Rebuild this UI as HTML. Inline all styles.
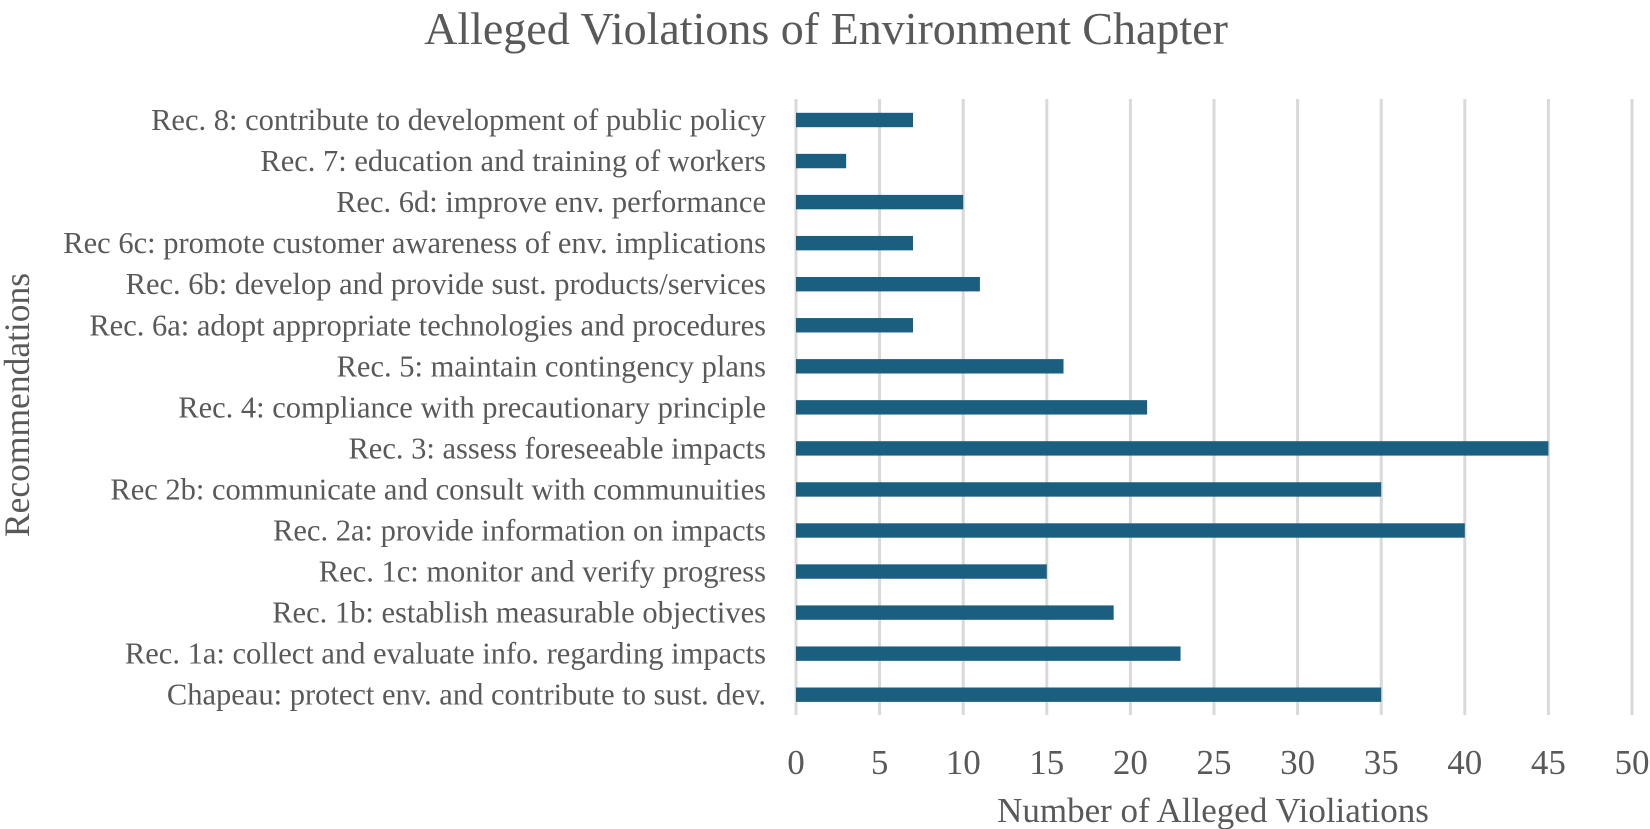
<!DOCTYPE html>
<html><head><meta charset="utf-8"><style>
body{margin:0;background:#fff;}
svg{display:block;font-family:"Liberation Serif",serif;}
</style></head><body>
<svg id="chart" width="1650" height="829">
<text x="826" y="44" text-anchor="middle" font-size="46" fill="#595959">Alleged Violations of Environment Chapter</text>
<g id="grid"></g><g id="bars"></g><g id="ylabels"></g><g id="xlabels"></g>
<text x="1213" y="822" text-anchor="middle" font-size="35" fill="#595959">Number of Alleged Violiations</text>
<text transform="translate(29,405) rotate(-90)" text-anchor="middle" font-size="35.5" fill="#595959">Recommendations</text>
</svg>
<script>
const categories=["Rec. 8: contribute to development of public policy","Rec. 7: education and training of workers","Rec. 6d: improve env. performance","Rec 6c: promote customer awareness of env. implications","Rec. 6b: develop and provide sust. products/services","Rec. 6a: adopt appropriate technologies and procedures","Rec. 5: maintain contingency plans","Rec. 4: compliance with precautionary principle","Rec. 3: assess foreseeable impacts","Rec 2b: communicate and consult with communuities","Rec. 2a: provide information on impacts","Rec. 1c: monitor and verify progress","Rec. 1b: establish measurable objectives","Rec. 1a: collect and evaluate info. regarding impacts","Chapeau: protect env. and contribute to sust. dev."];
const values=[7,3,10,7,11,7,16,21,45,35,40,15,19,23,35];
const ticks=[0,5,10,15,20,25,30,35,40,45,50];
const NS="http://www.w3.org/2000/svg";
const x=v=>796+(1632-796)*v/50;
const y=i=>120+i*41.05;
function mk(tag,attrs,parent,text){const e=document.createElementNS(NS,tag);for(const k in attrs)e.setAttribute(k,attrs[k]);if(text!==undefined)e.textContent=text;document.getElementById(parent).appendChild(e);return e;}
ticks.forEach(t=>{
 const g=mk('line',{x1:x(t),x2:x(t),y1:99,y2:715,stroke:'#d9d9d9','stroke-width':3},'grid');
 
 
 const l=mk('text',{x:x(t),y:774,'text-anchor':'middle','font-size':35,fill:'#595959'},'xlabels',String(t));
 
 
});
categories.forEach((c,i)=>{
 const b=mk('rect',{x:x(0),y:y(i)-7.2,width:x(values[i])-x(0),height:14.4,fill:'#1b5f80'},'bars');
 
 
 const t=mk('text',{x:766,y:y(i)+10,'text-anchor':'end','font-size':30.5,fill:'#595959'},'ylabels',c);
 
 
});
</script>
</body></html>
